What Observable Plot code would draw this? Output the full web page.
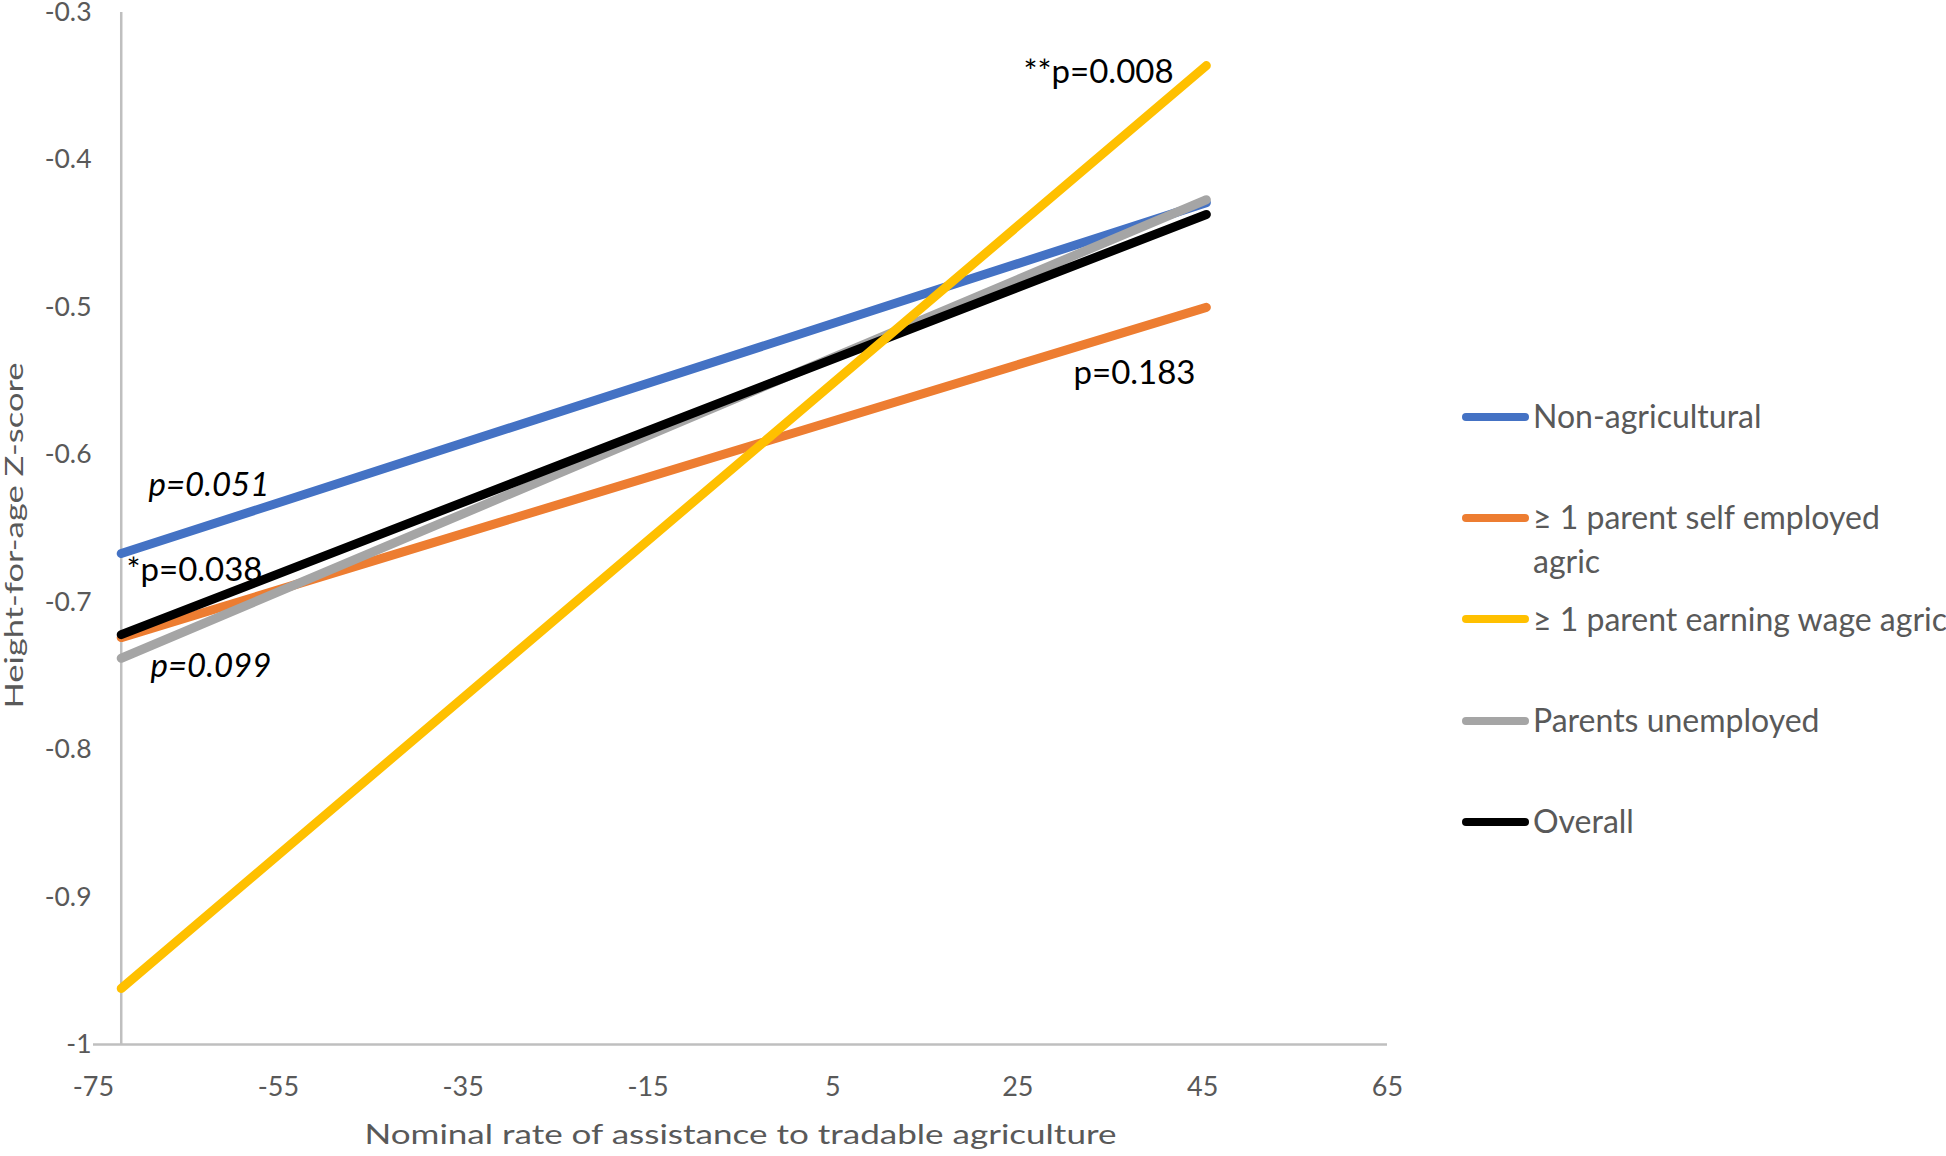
<!DOCTYPE html>
<html><head><meta charset="utf-8">
<script src="https://cdn.jsdelivr.net/npm/d3@7"></script>
<script src="https://cdn.jsdelivr.net/npm/@observablehq/plot@0.6"></script>
<style>
body{margin:0;background:#fff;}
#wrap{position:relative;width:1946px;height:1156px;overflow:hidden;font-family:Lato,"Open Sans",sans-serif;}
#legend{position:absolute;left:1462px;top:394px;color:#595959;font-size:32px;}
.row{display:flex;align-items:flex-start;height:101.25px;}
.sw{width:67px;height:8px;border-radius:4px;margin-top:18.8px;flex:none;}
.lbl{line-height:43.7px;white-space:pre;margin-left:4px;}
</style></head><body><div id="wrap"><div id="chart"></div><div id="legend"></div></div>
<script>
// ---- data ----
const seriesNames = ["Non-agricultural", "≥ 1 parent self employed agric", "≥ 1 parent earning wage agric", "Parents unemployed", "Overall"];
const legendLabels = ["Non-agricultural", "≥ 1 parent self employed\nagric", "≥ 1 parent earning wage agric", "Parents unemployed", "Overall"];
const seriesColors = ["#4472C4", "#ED7D31", "#FFC000", "#A5A5A5", "#000000"];
const xRange = [-72, 45.4];
const yStart = [-0.667, -0.724, -0.962, -0.738, -0.722];
const yEnd = [-0.429, -0.500, -0.336, -0.427, -0.437];
const drawOrder = [0, 1, 3, 4, 2];
const xTicks = [-75, -55, -35, -15, 5, 25, 45, 65];
const yTicks = [-1, -0.9, -0.8, -0.7, -0.6, -0.5, -0.4, -0.3];
const annoText = ["p=0.051", "*p=0.038", "p=0.099", "**p=0.008", "p=0.183"];
const annoX = [-69.05, -71.43, -68.83, 25.62, 31.03];
const annoY = [-0.6208, -0.6785, -0.7436, -0.3408, -0.5448];
const annoItalic = [true, false, true, false, false];
const xTitle = "Nominal rate of assistance to tradable agriculture";
const yTitle = "Height-for-age Z-score";

// ---- build ----
const lineMarks = drawOrder.map(i => Plot.line(
  [{x: xRange[0], y: yStart[i], s: seriesNames[i]}, {x: xRange[1], y: yEnd[i], s: seriesNames[i]}],
  {x: "x", y: "y", stroke: "s", strokeWidth: 9, strokeLinecap: "round"}
));
const annos = annoText.map((t, i) => ({t, x: annoX[i], y: annoY[i], it: annoItalic[i]}));

const chart = Plot.plot({
  width: 1946, height: 1156,
  marginLeft: 93, marginRight: 559, marginTop: 12, marginBottom: 112,
  x: {domain: [-75, 65]},
  y: {domain: [-1, -0.3]},
  color: {domain: seriesNames, range: seriesColors},
  style: {fontFamily: "Lato, 'Open Sans', sans-serif", background: "white", overflow: "visible"},
  marks: [
    Plot.ruleY([-1], {stroke: "#BFBFBF", strokeWidth: 2.5}),
    Plot.ruleX([xRange[0]], {y1: -1, y2: -0.3, stroke: "#BFBFBF", strokeWidth: 2.5}),
    Plot.axisY(yTicks, {tickSize: 0, tickPadding: 2, tickFormat: d => String(d), fontSize: 26.5, fill: "#595959", label: null}),
    Plot.axisX(xTicks, {tickSize: 0, tickPadding: 32, tickFormat: d => String(d), fontSize: 27, fill: "#595959", label: null}),
    ...lineMarks,
    Plot.text(annos.filter(d => d.it), {x: "x", y: "y", text: "t", textAnchor: "start", lineAnchor: "middle", fontSize: 33, fontStyle: "italic", fill: "black"}),
    Plot.text(annos.filter(d => !d.it), {x: "x", y: "y", text: "t", textAnchor: "start", lineAnchor: "middle", fontSize: 33, fill: "black"}),
    Plot.text([xTitle], {frameAnchor: "bottom", dy: 99, lineAnchor: "bottom", textAnchor: "middle", fontSize: 27, fill: "#595959"}),
    Plot.text([yTitle], {frameAnchor: "left", dx: -71, dy: 7, rotate: -90, lineAnchor: "bottom", textAnchor: "middle", fontSize: 25, fill: "#595959"})
  ]
});
document.getElementById("chart").appendChild(chart);
chart.querySelectorAll("text").forEach(t => {
  if (t.textContent === xTitle) { t.setAttribute("textLength", 752); t.setAttribute("lengthAdjust", "spacingAndGlyphs"); }
  if (t.textContent === yTitle) { t.setAttribute("textLength", 346); t.setAttribute("lengthAdjust", "spacingAndGlyphs"); }
});

// legend
const leg = document.getElementById("legend");
seriesNames.forEach((n, i) => {
  const row = document.createElement("div"); row.className = "row";
  const sw = document.createElement("div"); sw.className = "sw"; sw.style.background = seriesColors[i];
  const lb = document.createElement("div"); lb.className = "lbl"; lb.textContent = legendLabels[i];
  row.appendChild(sw); row.appendChild(lb); leg.appendChild(row);
});
</script></body></html>
